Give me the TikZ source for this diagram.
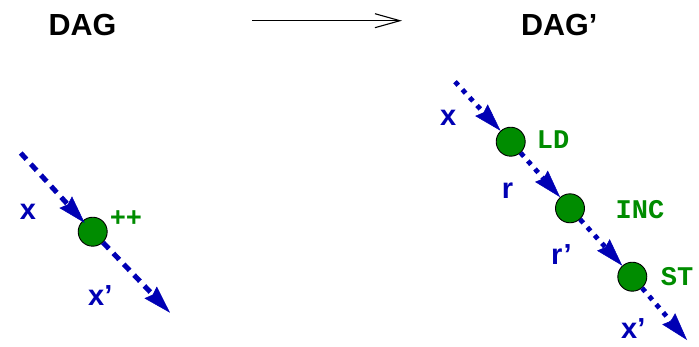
\documentclass[tikz,border=0pt]{standalone}
\usepackage{fontspec}
\setmainfont{Liberation Sans}
\newfontfamily\monob{Liberation Mono}
\usetikzlibrary{arrows.meta}
\definecolor{dblue}{RGB}{0,0,180}
\definecolor{dgreen}{RGB}{0,140,0}
\tikzset{
  title/.style={font=\fontsize{30.5}{34}\selectfont\bfseries, anchor=base west, inner sep=0pt},
  vlabel/.style={font=\fontsize{29}{32}\selectfont\bfseries, text=dblue, inner sep=0pt},
  olabel/.style={font=\monob\fontsize{27}{30}\selectfont\bfseries, text=dgreen, inner sep=0pt},
  opnode/.style={circle, draw=black, line width=0.9pt, fill=dgreen, minimum size=29pt, inner sep=0pt},
  headtip/.style={-{Stealth[length=28pt,width=17pt,inset=3pt,line width=0.5pt]}},
  flowL/.style={draw=dblue, line width=5pt, dash pattern=on 8.5pt off 6.5pt, headtip},
  flowR/.style={draw=dblue, line width=4.8pt, dash pattern=on 4.8pt off 6pt, headtip},
}
\begin{document}
\begin{tikzpicture}[x=1pt,y=-1pt]
\useasboundingbox (0,0) rectangle (699,346);
% titles
\node[title] (dag) at (48.5,35) {DAG};
\node[title] (dagp) at (521,35) {DAG’};
\coordinate (ta) at (252,20.7);
\coordinate (tb) at (402,20.7);
\draw[line width=1.1pt, -{Straight Barb[length=25pt,width=14pt]}] (ta) -- (tb);

% left
\coordinate (s1) at (20.7,153);
\node[opnode] (c1) at (92.7,231.7) {};
\coordinate (e1) at (170,312.7);
\draw[flowL, shorten >=-3pt] (s1) -- (c1);
\draw[flowL] (c1) -- (e1);
\node[vlabel] (lx) at (28,211.5) {x};
\node[olabel] (lpp) at (126,219) {++};
\node[vlabel, anchor=base west] (lxp) at (88,305) {x’};

% right
\coordinate (s2) at (455,81.7);
\node[opnode] (c2) at (510.7,141.7) {};
\node[opnode] (c3) at (570,208.3) {};
\node[opnode] (c4) at (632.3,276.7) {};
\coordinate (e2) at (687,340);
\draw[flowR] (s2) -- (c2);
\draw[flowR] (c2) -- (c3);
\draw[flowR] (c3) -- (c4);
\draw[flowR] (c4) -- (e2);
\node[vlabel] (rx) at (448.3,118) {x};
\node[olabel] (ld) at (553,140) {LD};
\node[vlabel] (rr) at (507.5,191) {r};
\node[olabel] (inc) at (640,210) {INC};
\node[vlabel, anchor=base west] (rrp) at (551,264) {r’};
\node[olabel] (st) at (677,277) {ST};
\node[vlabel, anchor=base west] (rxp) at (621,338) {x’};
\end{tikzpicture}
\end{document}
